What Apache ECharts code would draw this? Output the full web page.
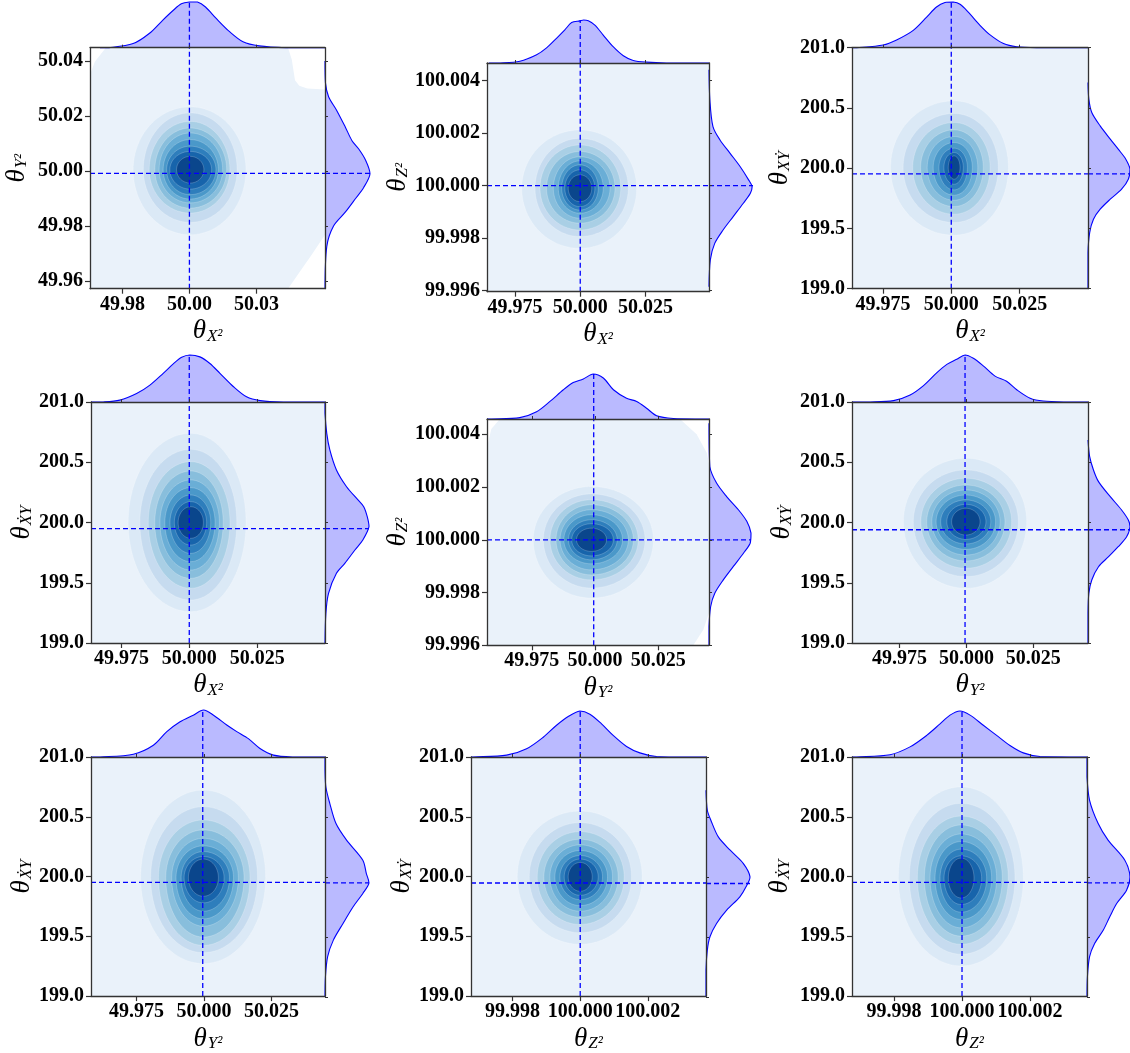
<!DOCTYPE html>
<html><head><meta charset="utf-8">
<script src="https://cdn.jsdelivr.net/npm/echarts@6/dist/echarts.min.js"></script>
<style>html,body{margin:0;padding:0;background:#fff}#c{width:1130px;height:1053px}</style>
</head><body><div id="c"></div>
<script>
// ---------------- shared tick arrays ----------------
const ticksX50 = [49.975, 50.0, 50.025];
const labelsX50short = ['49.98', '50.00', '50.03'];
const labelsX50long = ['49.975', '50.000', '50.025'];
const ticksY50 = [49.96, 49.98, 50.00, 50.02, 50.04];
const labelsY50 = ['49.96', '49.98', '50.00', '50.02', '50.04'];
const ticksZ100 = [99.996, 99.998, 100.0, 100.002, 100.004];
const labelsZ100 = ['99.996', '99.998', '100.000', '100.002', '100.004'];
const ticks200 = [199.0, 199.5, 200.0, 200.5, 201.0];
const labels200 = ['199.0', '199.5', '200.0', '200.5', '201.0'];
const ticksX100 = [99.998, 100.0, 100.002];
const labelsX100 = ['99.998', '100.000', '100.002'];

const levelColors = ['#eaf2fa', '#dbe9f6', '#c6dbef', '#a9cfe5', '#88bedc', '#6aaed6', '#4a98c9', '#2e7ebc', '#1764ab', '#0a468c'];

// ---------------- Panel 1 : theta_X2 vs theta_Y2 ----------------
const p1XRange = [49.9629, 50.0506];
const p1YRange = [49.9572, 50.0448];
const p1RingL = [49.9790, 49.9828, 49.9850, 49.9871, 49.9887, 49.9902, 49.9915, 49.9927, 49.9952];
const p1RingR = [50.0211, 50.0178, 50.0151, 50.0139, 50.0124, 50.0108, 50.0099, 50.0083, 50.0054];
const p1RingB = [49.9768, 49.9813, 49.9847, 49.9865, 49.9884, 49.9898, 49.9914, 49.9934, 49.9956];
const p1RingT = [50.0233, 50.0211, 50.0180, 50.0156, 50.0138, 50.0114, 50.0090, 50.0071, 50.0053];
const p1Bg = [[49.9688, 50.0448], [50.0368, 50.0448], [50.0382, 50.0405], [50.0394, 50.0330], [50.0410, 50.0310], [50.0440, 50.0300], [50.0506, 50.0296],
  [50.0506, 49.9768], [50.0457, 49.9696], [50.0412, 49.9634], [50.0368, 49.9572], [49.9629, 49.9572], [49.9629, 50.0350], [49.9647, 50.0397]];
const p1TopX = [49.9666, 49.9700, 49.9790, 49.9850, 49.9900, 49.9940, 49.9970, 50.0000, 50.0030, 50.0060, 50.0100, 50.0150, 50.0200, 50.0260, 50.0360, 50.0506];
const p1TopD = [0, 0, 0.09, 0.31, 0.60, 0.82, 0.96, 1.0, 1.0, 0.89, 0.64, 0.35, 0.13, 0.04, 0, 0];
const p1RightY = [49.9572, 49.9726, 49.9800, 49.9850, 49.9900, 49.9940, 49.9990, 50.0040, 50.0080, 50.0110, 50.0160, 50.0220, 50.0270, 50.0320, 50.0400];
const p1RightD = [0, 0.04, 0.19, 0.45, 0.68, 0.86, 1.0, 0.90, 0.75, 0.60, 0.45, 0.26, 0.08, 0.01, 0];
const p1True = [50.0000, 49.9991];

// ---------------- Panel 2 : theta_X2 vs theta_Z2 ----------------
const p2XRange = [49.9643, 50.0493];
const p2YRange = [99.99596, 100.00467];
const p2RingL = [49.9776, 49.9827, 49.9846, 49.9871, 49.9897, 49.9916, 49.9929, 49.9941, 49.9954];
const p2RingR = [50.0216, 50.0184, 50.0155, 50.0133, 50.0114, 50.0088, 50.0069, 50.0056, 50.0044];
const p2RingB = [99.99761, 99.99806, 99.99831, 99.99857, 99.99876, 99.99895, 99.99907, 99.99920, 99.99939];
const p2RingT = [100.00212, 100.00180, 100.00155, 100.00130, 100.00110, 100.00094, 100.00079, 100.00060, 100.00041];
const p2TopX = [49.9650, 49.9693, 49.9769, 49.9833, 49.9871, 49.9910, 49.9941, 49.9967, 49.9999, 50.0013, 50.0031, 50.0056, 50.0088, 50.0126, 50.0165, 50.0203, 50.0254, 50.0330, 50.0493];
const p2TopD = [0, 0, 0.04, 0.19, 0.35, 0.58, 0.77, 0.94, 0.98, 1.0, 0.98, 0.88, 0.65, 0.38, 0.17, 0.06, 0.02, 0, 0];
const p2RightY = [99.99615, 99.99717, 99.99780, 99.99831, 99.99882, 99.99933, 99.99971, 99.99996, 100.00022, 100.00072, 100.00123, 100.00174, 100.00225, 100.00326, 100.00441];
const p2RightD = [0, 0.03, 0.13, 0.32, 0.55, 0.78, 0.94, 0.98, 0.90, 0.71, 0.48, 0.25, 0.09, 0.02, 0];
const p2True = [50.0000, 100.0000];

// ---------------- Panel 3 : theta_X2 vs theta_XYdot ----------------
const p3XRange = [49.9637, 50.0500];
const p3YRange = [199.0, 201.0];
const p3RingL = [49.9778, 49.9824, 49.9859, 49.9888, 49.9912, 49.9934, 49.9955, 49.9973, 49.9989];
const p3RingR = [50.0209, 50.0172, 50.0142, 50.0117, 50.0097, 50.0077, 50.0059, 50.0044, 50.0032];
const p3RingB = [199.444, 199.549, 199.618, 199.682, 199.734, 199.776, 199.820, 199.867, 199.909];
const p3RingT = [200.559, 200.454, 200.379, 200.318, 200.263, 200.213, 200.166, 200.130, 200.102];
const p3TopX = [49.9637, 49.9654, 49.9751, 49.9800, 49.9861, 49.9910, 49.9946, 49.9977, 50.0007, 50.0032, 50.0062, 50.0105, 50.0142, 50.0191, 50.0239, 50.0313, 50.0500];
const p3TopD = [0, 0, 0.06, 0.17, 0.38, 0.67, 0.89, 0.99, 1.0, 0.95, 0.78, 0.49, 0.28, 0.09, 0.02, 0, 0];
const p3RightY = [199.0, 199.300, 199.466, 199.577, 199.660, 199.743, 199.826, 199.909, 199.992, 200.075, 200.158, 200.241, 200.351, 200.462, 200.573, 200.711];
const p3RightD = [0, 0, 0.04, 0.13, 0.29, 0.53, 0.80, 0.96, 1.0, 0.90, 0.72, 0.53, 0.29, 0.09, 0.02, 0];
const p3True = [50.0000, 199.953];

// ---------------- Panel 4 : theta_X2 vs theta_XdotY ----------------
const p4XRange = [49.9638, 50.0500];
const p4YRange = [199.0, 201.0];
const p4RingL = [49.9775, 49.9818, 49.9849, 49.9873, 49.9892, 49.9910, 49.9929, 49.9945, 49.9959];
const p4RingR = [50.0209, 50.0175, 50.0150, 50.0125, 50.0111, 50.0095, 50.0079, 50.0064, 50.0052];
const p4RingB = [199.260, 199.357, 199.454, 199.537, 199.606, 199.675, 199.744, 199.813, 199.869];
const p4RingT = [200.740, 200.607, 200.505, 200.427, 200.353, 200.289, 200.228, 200.173, 200.131];
const p4TopX = [49.9638, 49.9683, 49.9744, 49.9806, 49.9855, 49.9904, 49.9941, 49.9972, 50.0002, 50.0039, 50.0076, 50.0113, 50.0162, 50.0211, 50.0261, 50.0347, 50.0500];
const p4TopD = [0, 0, 0.04, 0.18, 0.36, 0.61, 0.81, 0.95, 1.0, 0.96, 0.82, 0.61, 0.33, 0.11, 0.03, 0, 0];
const p4RightY = [199.0, 199.246, 199.412, 199.578, 199.661, 199.772, 199.855, 199.965, 200.048, 200.131, 200.187, 200.297, 200.436, 200.602, 200.740, 200.906, 201.0];
const p4RightD = [0, 0.02, 0.08, 0.26, 0.45, 0.68, 0.86, 1.0, 0.96, 0.88, 0.75, 0.49, 0.26, 0.11, 0.04, 0, 0];
const p4True = [50.0000, 199.949];

// ---------------- Panel 5 : theta_Y2 vs theta_Z2 ----------------
const p5XRange = [49.9573, 50.0451];
const p5YRange = [99.9960, 100.00458];
const p5RingL = [49.9756, 49.9796, 49.9822, 49.9846, 49.9862, 49.9877, 49.9895, 49.9908, 49.9927];
const p5RingR = [50.0231, 50.0198, 50.0171, 50.0152, 50.0132, 50.0109, 50.0088, 50.0073, 50.0046];
const p5RingB = [99.99779, 99.99817, 99.99848, 99.99867, 99.99886, 99.99909, 99.99924, 99.99939, 99.99956];
const p5RingT = [100.00202, 100.00174, 100.00152, 100.00133, 100.00114, 100.00095, 100.00076, 100.00061, 100.00044];
const p5Bg = [[49.9624, 100.00458], [50.0336, 100.00458], [50.0402, 100.00400], [50.0442, 100.00330], [50.0451, 100.00290], [50.0451, 99.99722],
  [50.0429, 99.99660], [50.0389, 99.99600], [49.9573, 99.99600], [49.9573, 100.00350], [49.9590, 100.00420]];
const p5TopX = [49.9573, 49.9591, 49.9703, 49.9769, 49.9822, 49.9875, 49.9914, 49.9954, 49.9993, 50.0033, 50.0073, 50.0125, 50.0165, 50.0204, 50.0244, 50.0310, 50.0429, 50.0451];
const p5TopD = [0, 0, 0.03, 0.16, 0.39, 0.65, 0.81, 0.89, 1.0, 0.91, 0.65, 0.46, 0.39, 0.24, 0.07, 0.01, 0, 0];
const p5RightY = [99.99600, 99.99671, 99.99747, 99.99798, 99.99848, 99.99899, 99.99949, 99.99987, 100.00025, 100.00070, 100.00114, 100.00164, 100.00215, 100.00278, 100.00442];
const p5RightD = [0, 0, 0.04, 0.14, 0.34, 0.58, 0.82, 0.98, 1.0, 0.90, 0.70, 0.42, 0.18, 0.02, 0];
const p5True = [49.9995, 100.0000];

// ---------------- Panel 6 : theta_Y2 vs theta_XYdot ----------------
const p6XRange = [49.9573, 50.0454];
const p6YRange = [199.0, 201.0];
const p6RingL = [49.9765, 49.9802, 49.9830, 49.9852, 49.9871, 49.9887, 49.9904, 49.9927, 49.9945];
const p6RingR = [50.0225, 50.0194, 50.0169, 50.0144, 50.0126, 50.0109, 50.0091, 50.0073, 50.0051];
const p6RingB = [199.454, 199.551, 199.620, 199.681, 199.730, 199.777, 199.822, 199.860, 199.896];
const p6RingT = [200.533, 200.436, 200.367, 200.311, 200.270, 200.228, 200.187, 200.151, 200.118];
const p6TopX = [49.9573, 49.9641, 49.9728, 49.9790, 49.9840, 49.9889, 49.9927, 49.9964, 49.9995, 50.0026, 50.0063, 50.0107, 50.0150, 50.0188, 50.0238, 50.0287, 50.0374, 50.0454];
const p6TopD = [0, 0, 0.03, 0.15, 0.35, 0.62, 0.80, 0.91, 1.0, 0.93, 0.77, 0.55, 0.44, 0.26, 0.08, 0.02, 0, 0];
const p6RightY = [199.0, 199.246, 199.412, 199.523, 199.633, 199.716, 199.799, 199.882, 199.965, 200.021, 200.104, 200.214, 200.339, 200.436, 200.546, 200.685];
const p6RightD = [0, 0, 0.02, 0.09, 0.25, 0.49, 0.72, 0.92, 1.0, 0.96, 0.80, 0.53, 0.25, 0.13, 0.04, 0];
const p6True = [49.9995, 199.940];

// ---------------- Panel 7 : theta_Y2 vs theta_XdotY ----------------
const p7XRange = [49.9581, 50.0448];
const p7YRange = [199.0, 201.0];
const p7RingL = [49.9765, 49.9802, 49.9831, 49.9858, 49.9880, 49.9896, 49.9915, 49.9926, 49.9942];
const p7RingR = [50.0228, 50.0198, 50.0170, 50.0148, 50.0127, 50.0109, 50.0094, 50.0074, 50.0053];
const p7RingB = [199.272, 199.363, 199.424, 199.494, 199.585, 199.646, 199.710, 199.780, 199.835];
const p7RingT = [200.723, 200.584, 200.473, 200.390, 200.320, 200.257, 200.209, 200.168, 200.146];
const p7TopX = [49.9581, 49.9615, 49.9738, 49.9812, 49.9862, 49.9911, 49.9960, 49.9998, 50.0035, 50.0084, 50.0121, 50.0164, 50.0207, 50.0257, 50.0331, 50.0448];
const p7TopD = [0, 0, 0.06, 0.25, 0.54, 0.75, 0.89, 1.0, 0.89, 0.68, 0.54, 0.39, 0.18, 0.04, 0, 0];
const p7RightY = [199.0, 199.169, 199.336, 199.474, 199.613, 199.752, 199.863, 199.951, 200.029, 200.140, 200.307, 200.445, 200.612, 200.750, 200.889, 201.0];
const p7RightD = [0, 0.01, 0.06, 0.19, 0.41, 0.64, 0.86, 1.0, 0.94, 0.86, 0.49, 0.25, 0.11, 0.02, 0, 0];
const p7True = [49.9995, 199.951];

// ---------------- Panel 8 : theta_Z2 vs theta_XYdot ----------------
const p8XRange = [99.99677, 100.00372];
const p8YRange = [199.0, 201.0];
const p8RingL = [99.998138, 99.998493, 99.998729, 99.998926, 99.999103, 99.999251, 99.999399, 99.999527, 99.999645];
const p8RingR = [100.001833, 100.001517, 100.001300, 100.001123, 100.000956, 100.000808, 100.000660, 100.000532, 100.000355];
const p8RingB = [199.433, 199.530, 199.599, 199.660, 199.710, 199.757, 199.807, 199.843, 199.877];
const p8RingT = [200.548, 200.451, 200.376, 200.312, 200.265, 200.218, 200.176, 200.146, 200.118];
const p8TopX = [99.99677, 99.996837, 99.997823, 99.998414, 99.998906, 99.999300, 99.999645, 99.999990, 100.000286, 100.000631, 100.000975, 100.001370, 100.001764, 100.002256, 100.002946, 100.00372];
const p8TopD = [0, 0, 0.04, 0.18, 0.43, 0.69, 0.88, 1.0, 0.93, 0.72, 0.47, 0.23, 0.09, 0.01, 0, 0];
const p8RightY = [199.0, 199.225, 199.391, 199.502, 199.613, 199.724, 199.835, 199.918, 200.001, 200.112, 200.223, 200.334, 200.473, 200.556, 200.723];
const p8RightD = [0, 0, 0.03, 0.09, 0.24, 0.47, 0.77, 0.91, 1.0, 0.85, 0.55, 0.28, 0.11, 0.03, 0];
const p8True = [100.0000, 199.946];

// ---------------- Panel 9 : theta_Z2 vs theta_XdotY ----------------
const p9XRange = [99.99677, 100.00367];
const p9YRange = [199.0, 201.0];
const p9RingL = [99.998132, 99.998455, 99.998689, 99.998895, 99.999061, 99.999208, 99.999355, 99.999472, 99.999599];
const p9RingR = [100.001800, 100.001555, 100.001359, 100.001183, 100.001017, 100.000870, 100.000724, 100.000577, 100.000352];
const p9RingB = [199.252, 199.350, 199.433, 199.502, 199.571, 199.641, 199.702, 199.766, 199.821];
const p9RingT = [200.750, 200.612, 200.506, 200.431, 200.356, 200.293, 200.229, 200.173, 200.154];
const p9TopX = [99.99677, 99.996910, 99.997888, 99.998474, 99.998963, 99.999355, 99.999648, 99.999941, 100.000235, 100.000626, 100.001017, 100.001408, 100.001800, 100.002289, 100.00356, 100.00367];
const p9TopD = [0, 0, 0.05, 0.22, 0.47, 0.72, 0.91, 1.0, 0.91, 0.69, 0.47, 0.25, 0.09, 0.01, 0, 0];
const p9RightY = [199.0, 199.169, 199.336, 199.447, 199.558, 199.669, 199.779, 199.890, 200.001, 200.140, 200.307, 200.445, 200.639, 200.834, 201.0];
const p9RightD = [0, 0.01, 0.06, 0.18, 0.38, 0.53, 0.69, 0.92, 1.0, 0.88, 0.49, 0.26, 0.06, 0, 0];
const p9True = [100.0000, 199.951];

// axis names (subscripts of theta)
const xNames = ['X²', 'X²', 'X²', 'X²', 'Y²', 'Y²', 'Y²', 'Z²', 'Z²'];
const yNames = ['Y²', 'Z²', 'X\u1E8E', '\u1E8AY', 'Z²', 'X\u1E8E', '\u1E8AY', 'X\u1E8E', '\u1E8AY'];

const panels = [
  {xr: p1XRange, yr: p1YRange, L: p1RingL, R: p1RingR, B: p1RingB, T: p1RingT, bg: p1Bg, tx: p1TopX, td: p1TopD, ry: p1RightY, rd: p1RightD, tr: p1True, xt: ticksX50, xl: labelsX50short, yt: ticksY50, yl: labelsY50},
  {xr: p2XRange, yr: p2YRange, L: p2RingL, R: p2RingR, B: p2RingB, T: p2RingT, bg: null, tx: p2TopX, td: p2TopD, ry: p2RightY, rd: p2RightD, tr: p2True, xt: ticksX50, xl: labelsX50long, yt: ticksZ100, yl: labelsZ100},
  {xr: p3XRange, yr: p3YRange, L: p3RingL, R: p3RingR, B: p3RingB, T: p3RingT, bg: null, tx: p3TopX, td: p3TopD, ry: p3RightY, rd: p3RightD, tr: p3True, xt: ticksX50, xl: labelsX50long, yt: ticks200, yl: labels200},
  {xr: p4XRange, yr: p4YRange, L: p4RingL, R: p4RingR, B: p4RingB, T: p4RingT, bg: null, tx: p4TopX, td: p4TopD, ry: p4RightY, rd: p4RightD, tr: p4True, xt: ticksX50, xl: labelsX50long, yt: ticks200, yl: labels200},
  {xr: p5XRange, yr: p5YRange, L: p5RingL, R: p5RingR, B: p5RingB, T: p5RingT, bg: p5Bg, tx: p5TopX, td: p5TopD, ry: p5RightY, rd: p5RightD, tr: p5True, xt: ticksX50, xl: labelsX50long, yt: ticksZ100, yl: labelsZ100},
  {xr: p6XRange, yr: p6YRange, L: p6RingL, R: p6RingR, B: p6RingB, T: p6RingT, bg: null, tx: p6TopX, td: p6TopD, ry: p6RightY, rd: p6RightD, tr: p6True, xt: ticksX50, xl: labelsX50long, yt: ticks200, yl: labels200},
  {xr: p7XRange, yr: p7YRange, L: p7RingL, R: p7RingR, B: p7RingB, T: p7RingT, bg: null, tx: p7TopX, td: p7TopD, ry: p7RightY, rd: p7RightD, tr: p7True, xt: ticksX50, xl: labelsX50long, yt: ticks200, yl: labels200},
  {xr: p8XRange, yr: p8YRange, L: p8RingL, R: p8RingR, B: p8RingB, T: p8RingT, bg: null, tx: p8TopX, td: p8TopD, ry: p8RightY, rd: p8RightD, tr: p8True, xt: ticksX100, xl: labelsX100, yt: ticks200, yl: labels200},
  {xr: p9XRange, yr: p9YRange, L: p9RingL, R: p9RingR, B: p9RingB, T: p9RingT, bg: null, tx: p9TopX, td: p9TopD, ry: p9RightY, rd: p9RightD, tr: p9True, xt: ticksX100, xl: labelsX100, yt: ticks200, yl: labels200}
];

// ---------------- layout (pixels) ----------------
const LAYOUT = [
  {l: 90, t: 47.7, w: 235, h: 241, mt: 2, rw: 45, yGap: 60},
  {l: 487, t: 63, w: 222, h: 228.7, mt: 20, rw: 44, yGap: 72},
  {l: 852, t: 47.7, w: 236, h: 241, mt: 2, rw: 42, yGap: 59},
  {l: 91, t: 402, w: 234, h: 241, mt: 355, rw: 44, yGap: 56},
  {l: 487, t: 419, w: 222, h: 226.3, mt: 374, rw: 42, yGap: 70},
  {l: 852, t: 402, w: 236, h: 241, mt: 355, rw: 42, yGap: 57},
  {l: 91, t: 757, w: 234, h: 240, mt: 710, rw: 44, yGap: 56},
  {l: 471, t: 757, w: 235, h: 240, mt: 711, rw: 44, yGap: 56},
  {l: 852, t: 757, w: 235, h: 240, mt: 711, rw: 43, yGap: 59}
];

const FONT = 'Liberation Serif';
const SPINE = '#333';
const NAME_RICH = {
  t: {fontFamily: FONT, fontStyle: 'italic', fontSize: 27, lineHeight: 30, verticalAlign: 'bottom', color: '#000'},
  s: {fontFamily: FONT, fontStyle: 'italic', fontSize: 17, lineHeight: 18, padding: [12, 0, 0, 1], verticalAlign: 'bottom', color: '#000'}
};

function labelFormatter(ticks, labels) {
  return function (v) {
    for (let i = 0; i < ticks.length; i++) if (Math.abs(ticks[i] - v) < 1e-9) return labels[i];
    return '';
  };
}

function bboxConstraint(pts) {
  let mn = [Infinity, Infinity], mx = [-Infinity, -Infinity];
  pts.forEach(p => { mn[0] = Math.min(mn[0], p[0]); mn[1] = Math.min(mn[1], p[1]); mx[0] = Math.max(mx[0], p[0]); mx[1] = Math.max(mx[1], p[1]); });
  return [mn, mx];
}

function ringRender(p) {
  return function (params, api) {
    const cs = params.coordSys;
    const i = params.dataIndex;
    const clip = {type: 'rect', shape: {x: cs.x, y: cs.y, width: cs.width, height: cs.height}};
    if (i === 0) {
      const poly = p.bg || [[p.xr[0], p.yr[0]], [p.xr[1], p.yr[0]], [p.xr[1], p.yr[1]], [p.xr[0], p.yr[1]]];
      return {type: 'polygon', shape: {points: poly.map(q => api.coord(q))}, style: {fill: levelColors[0]}, clipPath: clip};
    }
    const k = i - 1;
    const cx = (p.L[8] + p.R[8]) / 2, cy = (p.B[8] + p.T[8]) / 2;
    const c = api.coord([cx, cy]);
    const xl = api.coord([p.L[k], cy])[0], xr = api.coord([p.R[k], cy])[0];
    const yt = api.coord([cx, p.T[k]])[1], yb = api.coord([cx, p.B[k]])[1];
    const pts = [];
    const N = 120;
    for (let j = 0; j < N; j++) {
      const a = j / N * 2 * Math.PI, co = Math.cos(a), si = Math.sin(a);
      const rx = co >= 0 ? xr - c[0] : c[0] - xl;
      const ry = si >= 0 ? yb - c[1] : c[1] - yt;
      pts.push([c[0] + rx * co, c[1] + ry * si]);
    }
    return {type: 'polygon', shape: {points: pts}, style: {fill: levelColors[i], stroke: 'rgba(255,255,255,0.35)', lineWidth: 0.6}, clipPath: clip};
  };
}

function margRender(vals, dens, vertical) {
  return function (params, api) {
    if (params.dataIndex !== 0) return null;
    const pts = vals.map((v, i) => vertical ? api.coord([dens[i], v]) : api.coord([v, dens[i]]));
    const b0 = vertical ? api.coord([0, vals[0]]) : api.coord([vals[0], 0]);
    const b1 = vertical ? api.coord([0, vals[vals.length - 1]]) : api.coord([vals[vals.length - 1], 0]);
    const poly = pts.concat([b1, b0]);
    return {type: 'group', children: [
      {type: 'polygon', shape: {points: poly, smooth: 0.3, smoothConstraint: bboxConstraint(poly)}, style: {fill: 'rgba(0,0,255,0.27)'}},
      {type: 'polyline', shape: {points: pts, smooth: 0.3, smoothConstraint: bboxConstraint(pts)}, style: {stroke: '#0000ff', lineWidth: 1.1, fill: null}}
    ]};
  };
}

const grids = [], xAxes = [], yAxes = [], series = [];
const dashStyle = {color: '#0000ff', width: 1.3, type: [5, 3]};

panels.forEach((p, k) => {
  const Lo = LAYOUT[k];
  const gMain = grids.length; grids.push({left: Lo.l, top: Lo.t, width: Lo.w, height: Lo.h});
  const gTop = grids.length; grids.push({left: Lo.l, top: Lo.mt, width: Lo.w, height: Lo.t - Lo.mt});
  const gRight = grids.length; grids.push({left: Lo.l + Lo.w, top: Lo.t, width: Lo.rw, height: Lo.h});

  const xMain = xAxes.length;
  xAxes.push({gridIndex: gMain, type: 'value', min: p.xr[0], max: p.xr[1], position: 'bottom', z: 10,
    axisLine: {show: true, onZero: false, lineStyle: {color: SPINE, width: 1.3}},
    axisTick: {show: true, length: 5, customValues: p.xt, lineStyle: {color: SPINE, width: 1.2}},
    axisLabel: {customValues: p.xt, formatter: labelFormatter(p.xt, p.xl), fontFamily: FONT, fontWeight: 'bold', fontSize: 20, color: '#000', margin: 6, interval: 0, hideOverlap: false},
    splitLine: {show: false},
    name: '{t|θ}{s|' + xNames[k] + '}', nameLocation: 'middle', nameGap: 24, nameTextStyle: {rich: NAME_RICH}});
  xAxes.push({gridIndex: gMain, type: 'value', min: p.xr[0], max: p.xr[1], position: 'top', z: 10,
    axisLine: {show: true, onZero: false, lineStyle: {color: SPINE, width: 1.3}}, axisTick: {show: false}, axisLabel: {show: false}, splitLine: {show: false}});
  const yMain = yAxes.length;
  yAxes.push({gridIndex: gMain, type: 'value', min: p.yr[0], max: p.yr[1], position: 'left', z: 10,
    axisLine: {show: true, onZero: false, lineStyle: {color: SPINE, width: 1.3}},
    axisTick: {show: true, length: 5, customValues: p.yt, lineStyle: {color: SPINE, width: 1.2}},
    axisLabel: {customValues: p.yt, formatter: labelFormatter(p.yt, p.yl), fontFamily: FONT, fontWeight: 'bold', fontSize: 20, color: '#000', margin: 7, interval: 0, hideOverlap: false},
    splitLine: {show: false},
    name: '{t|θ}{s|' + yNames[k] + '}', nameLocation: 'middle', nameRotate: 90, nameGap: Lo.yGap, nameTextStyle: {rich: NAME_RICH}});
  yAxes.push({gridIndex: gMain, type: 'value', min: p.yr[0], max: p.yr[1], position: 'right', z: 10,
    axisLine: {show: true, onZero: false, lineStyle: {color: SPINE, width: 1.3}}, axisTick: {show: false}, axisLabel: {show: false}, splitLine: {show: false}});

  const xTop = xAxes.length;
  xAxes.push({gridIndex: gTop, type: 'value', min: p.xr[0], max: p.xr[1], position: 'bottom', z: 10,
    axisLine: {show: false, onZero: false}, axisTick: {show: true, inside: true, length: 3, customValues: p.xt, lineStyle: {color: SPINE, width: 1}},
    axisLabel: {show: false}, splitLine: {show: false}});
  const yTop = yAxes.length;
  yAxes.push({gridIndex: gTop, type: 'value', min: 0, max: 1, show: false, splitLine: {show: false}});
  const xRight = xAxes.length;
  xAxes.push({gridIndex: gRight, type: 'value', min: 0, max: 1, show: false, splitLine: {show: false}});
  const yRight = yAxes.length;
  yAxes.push({gridIndex: gRight, type: 'value', min: p.yr[0], max: p.yr[1], position: 'left', z: 10,
    axisLine: {show: false, onZero: false}, axisTick: {show: true, inside: true, length: 3, customValues: p.yt, lineStyle: {color: SPINE, width: 1}},
    axisLabel: {show: false}, splitLine: {show: false}});

  // filled KDE contour levels
  series.push({type: 'custom', xAxisIndex: xMain, yAxisIndex: yMain, silent: true, z: 2,
    data: levelColors.map((c, i) => i === 0 ? [p.xr[0], p.yr[0]] : [p.L[i - 1], p.B[i - 1]]),
    renderItem: ringRender(p)});
  // marginals
  series.push({type: 'custom', xAxisIndex: xTop, yAxisIndex: yTop, silent: true, z: 2,
    data: p.tx.map((x, i) => [x, p.td[i]]), renderItem: margRender(p.tx, p.td, false)});
  series.push({type: 'custom', xAxisIndex: xRight, yAxisIndex: yRight, silent: true, z: 2,
    data: p.ry.map((y, i) => [p.rd[i], y]), renderItem: margRender(p.ry, p.rd, true)});
  // true-value dashed lines
  const lineBase = {type: 'line', symbol: 'none', silent: true, z: 5, lineStyle: dashStyle, animation: false};
  series.push(Object.assign({}, lineBase, {xAxisIndex: xMain, yAxisIndex: yMain, data: [[p.tr[0], p.yr[0]], [p.tr[0], p.yr[1]]]}));
  series.push(Object.assign({}, lineBase, {xAxisIndex: xMain, yAxisIndex: yMain, data: [[p.xr[0], p.tr[1]], [p.xr[1], p.tr[1]]]}));
  series.push(Object.assign({}, lineBase, {xAxisIndex: xTop, yAxisIndex: yTop, data: [[p.tr[0], 0], [p.tr[0], 1]]}));
  series.push(Object.assign({}, lineBase, {xAxisIndex: xRight, yAxisIndex: yRight, data: [[0, p.tr[1]], [1, p.tr[1]]]}));
});

const chart = echarts.init(document.getElementById('c'), null, {renderer: 'canvas'});
chart.setOption({
  animation: false,
  backgroundColor: '#ffffff',
  grid: grids,
  xAxis: xAxes,
  yAxis: yAxes,
  series: series
});
</script>
</body></html>
